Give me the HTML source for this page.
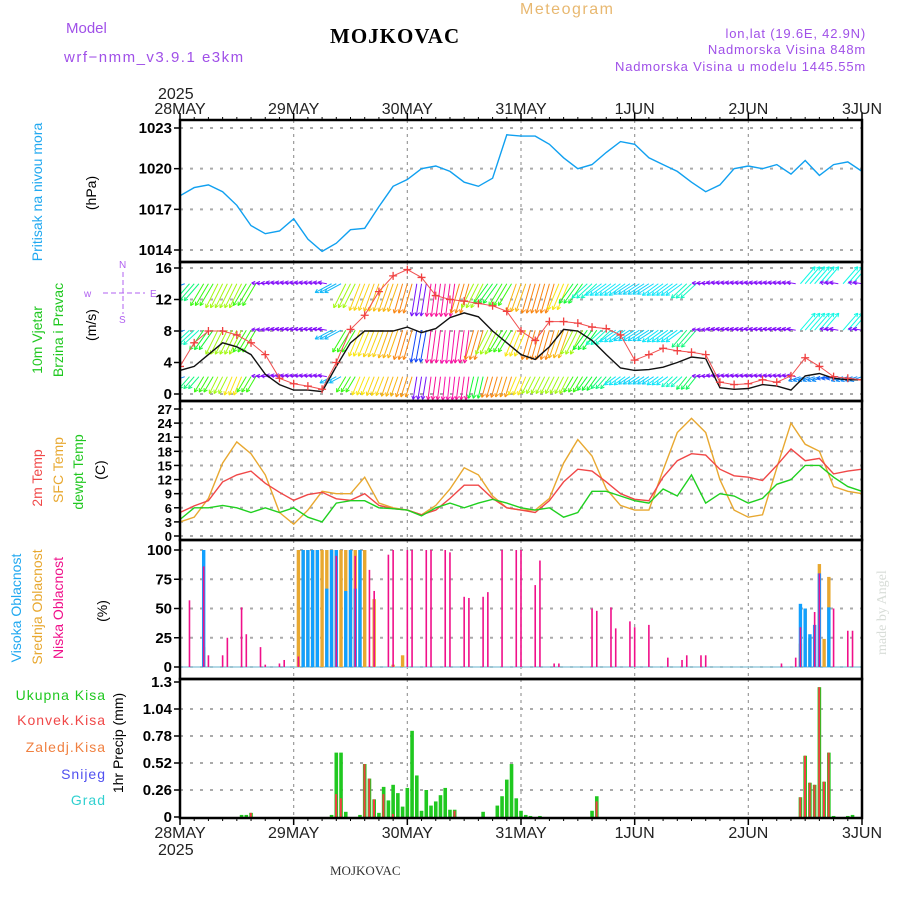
<!DOCTYPE html>
<html><head><meta charset="utf-8"><style>
html,body{margin:0;padding:0;background:#fff}
svg{display:block}
text{font-family:"Liberation Sans",sans-serif}
</style></head><body>
<svg id="c" width="900" height="900" viewBox="0 0 900 900" xmlns="http://www.w3.org/2000/svg">
<defs>
<clipPath id="cw"><rect x="180" y="262" width="682" height="139"/></clipPath>
<clipPath id="cp"><rect x="180" y="120" width="682" height="142"/></clipPath>
</defs>
<g font-size="15">
<text x="66" y="33" fill="#a050e8">Model</text>
<text x="64" y="62" fill="#a050e8" letter-spacing="1.5">wrf−nmm_v3.9.1  e3km</text>
<text x="330" y="43" style="font-family:'Liberation Serif',serif" font-weight="bold" font-size="21" fill="#000" letter-spacing="1">MOJKOVAC</text>
<text x="520" y="14" fill="#e8b870" font-size="16" letter-spacing="1.5">Meteogram</text>
<text x="866" y="38" text-anchor="end" fill="#a050e8" font-size="13" letter-spacing="0.8">lon,lat (19.6E, 42.9N)</text>
<text x="866" y="54" text-anchor="end" fill="#a050e8" font-size="13" letter-spacing="0.8">Nadmorska Visina 848m</text>
<text x="866" y="71" text-anchor="end" fill="#a050e8" font-size="13" letter-spacing="0.8">Nadmorska Visina u modelu 1445.55m</text>
<text x="158" y="99" font-size="16" fill="#222">2025</text>
<text x="158" y="855" font-size="16" fill="#222">2025</text>
<text x="330" y="875" style="font-family:'Liberation Serif',serif" font-size="13" fill="#333">MOJKOVAC</text>
<text transform="translate(886,655) rotate(-90)" style="font-family:'Liberation Serif',serif" font-size="14" fill="#d8ddd8">made by Angel</text>
</g>
<g font-size="14" text-anchor="middle">
<text transform="translate(42,192) rotate(-90)" fill="#20a8f0">Pritisak na nivou mora</text>
<text transform="translate(96,193) rotate(-90)" fill="#000">(hPa)</text>
<text transform="translate(42,340) rotate(-90)" fill="#20c820">10m Vjetar</text>
<text transform="translate(63,330) rotate(-90)" fill="#20c820">Brzina i Pravac</text>
<text transform="translate(96,325) rotate(-90)" fill="#000">(m/s)</text>
<text transform="translate(42,478) rotate(-90)" fill="#f04848">2m Temp</text>
<text transform="translate(63,470) rotate(-90)" fill="#e8a830">SFC Temp</text>
<text transform="translate(83,472) rotate(-90)" fill="#20c820">dewpt Temp</text>
<text transform="translate(105,470) rotate(-90)" fill="#000">(C)</text>
<text transform="translate(21,608) rotate(-90)" fill="#20a8f0">Visoka Oblacnost</text>
<text transform="translate(42,607) rotate(-90)" fill="#e8a830">Srednja Oblacnost</text>
<text transform="translate(63,608) rotate(-90)" fill="#f0108a">Niska Oblacnost</text>
<text transform="translate(107,611) rotate(-90)" fill="#000">(%)</text>
<text transform="translate(123,743) rotate(-90)" fill="#000">1hr Precip (mm)</text>
</g>
<g font-size="14" text-anchor="end" letter-spacing="1">
<text x="106" y="700" fill="#20c820">Ukupna  Kisa</text>
<text x="106" y="725" fill="#f04848">Konvek.Kisa</text>
<text x="106" y="752" fill="#f08040">Zaledj.Kisa</text>
<text x="106" y="779" fill="#5050f0">Snijeg</text>
<text x="106" y="805" fill="#30d0d0">Grad</text>
</g>
<g fill="#b060f0" stroke="#b060f0" font-size="10">
<text x="84" y="297" stroke="none">w</text>
<text x="150" y="297" stroke="none">E</text>
<text x="119" y="268" stroke="none">N</text>
<text x="119" y="323" stroke="none">S</text>
<line x1="103" y1="293" x2="145" y2="293" stroke-dasharray="5,3"/>
<line x1="123" y1="272" x2="123" y2="314" stroke-dasharray="5,3"/>
</g>
<g id="grid"></g>
<g id="marks"></g>
<g id="axes"></g>
</svg>
<script>
const days = ["28MAY","29MAY","30MAY","31MAY","1JUN","2JUN","3JUN"];
const pressure = [1018.0,1018.6,1018.8,1018.3,1017.3,1015.8,1015.2,1015.4,1016.3,1014.8,1013.9,1014.5,1015.5,1015.6,1017.2,1018.7,1019.2,1020.0,1020.2,1019.8,1019.0,1018.7,1019.3,1022.5,1022.4,1022.4,1021.8,1020.8,1020.0,1020.3,1021.2,1022.0,1021.8,1020.8,1020.3,1019.8,1019.0,1018.3,1018.8,1020.0,1020.2,1020.0,1020.3,1019.6,1020.6,1019.5,1020.3,1020.5,1019.8];
const windSpeed = [3.0,3.5,5.0,6.5,6.0,5.0,2.5,1.2,0.5,0.5,0.3,3.5,6.5,8.0,8.0,8.0,8.5,7.8,8.3,9.7,10.3,9.8,8.0,6.5,5.0,4.4,6.0,8.2,8.0,6.8,5.0,3.3,3.0,3.1,3.4,4.0,4.7,4.5,0.8,0.6,0.7,1.2,1.0,0.5,2.3,2.6,2.0,1.8,1.8];
const windGust = [3.5,6.5,8.0,8.0,7.5,6.5,5.0,2.0,1.3,1.0,0.6,4.0,8.2,10.0,13.0,15.0,15.8,14.8,12.5,12.0,11.8,11.5,11.2,10.5,8.0,6.8,9.2,9.2,9.0,8.5,8.3,7.5,4.3,5.0,5.8,5.5,5.3,5.0,1.5,1.2,1.3,1.8,1.5,2.3,4.6,3.5,2.2,2.0,1.8];
const dirLow = [80,60,50,45,40,50,95,100,100,100,100,75,50,40,38,35,32,18,15,12,15,25,30,32,40,45,45,45,50,55,60,70,72,72,70,65,58,95,100,100,100,100,100,100,80,80,85,80,80];
const dirMid = [80,65,55,45,45,50,95,100,100,100,100,75,50,40,38,35,30,20,15,12,15,30,45,50,40,30,30,35,45,55,65,70,72,72,70,70,60,95,100,100,100,100,100,100,240,240,100,240,100];
const dirTop = [80,60,50,45,45,50,95,100,100,100,100,75,45,38,36,35,30,18,15,15,30,45,55,50,35,30,30,40,55,65,70,70,72,72,70,70,65,95,100,100,100,100,100,100,240,240,100,240,100];
const temp2m = [5.0,6.4,7.5,11.5,13.0,13.8,11.2,9.3,7.6,8.8,9.3,7.9,7.6,9.0,6.5,5.8,5.5,4.5,5.5,8.0,10.8,10.8,8.0,6.0,5.5,5.0,7.5,11.5,14.2,13.8,11.5,9.0,7.8,7.5,12.5,16.0,17.5,17.2,14.2,12.8,12.5,11.8,15.0,18.5,16.0,16.5,13.2,13.8,14.2];
const tempSfc = [3.0,4.0,8.0,15.5,20.0,17.5,13.0,5.0,2.5,5.5,9.5,9.0,9.0,12.5,7.0,6.0,5.5,4.5,6.5,10.0,14.5,13.0,8.5,6.0,5.5,5.5,8.0,15.5,20.5,17.0,10.0,6.5,5.5,5.5,14.0,22.0,25.0,22.0,12.0,5.5,4.0,4.5,14.5,24.0,19.5,18.0,10.5,9.5,9.0];
const dewpt = [3.5,6.0,6.0,6.5,6.0,5.0,6.0,5.0,6.0,4.0,3.0,7.0,7.5,7.5,6.0,5.8,5.5,4.3,6.0,7.0,6.0,7.0,7.8,7.0,6.0,5.5,6.0,4.0,5.0,9.5,9.5,8.5,7.5,7.0,10.0,8.5,13.0,7.0,9.0,8.5,7.0,8.0,11.0,12.0,15.0,15.0,12.5,10.5,9.5];
const lowHours = [2,5,6,9,10,13,14,17,18,21,22,25,33,37,40,41,44,45,48,49,52,53,56,57,60,61,64,65,68,71,72,75,76,79,80,87,88,91,92,95,96,99,103,106,107,110,111,127,130,131,134,135,138,141,142];
const lowVals  = [57,86,10,10,25,51,28,17,2,3,6,9,95,95,83,65,96,100,100,100,100,100,100,98,60,59,60,64,100,100,100,70,91,3,3,50,48,51,33,39,34,36,8,6,10,10,10,3,8,34,47,80,50,31,31];
const midHours = [5,25,26,27,28,29,30,31,32,33,34,35,36,37,38,39,41,45,47,131,132,133,135,136,137];
const midVals  = [17,100,100,100,100,100,100,100,100,100,100,100,100,100,100,100,58,2,10,20,50,25,88,24,77];
const highHours = [5,26,27,28,29,31,32,33,35,36,37,38,131,132,133,134,135,137];
const highVals  = [100,100,100,100,100,67,100,100,65,100,67,100,54,50,28,36,80,51];
const rainHours = [13,14,15,32,33,34,35,38,39,40,41,42,43,44,45,46,47,48,49,50,51,52,53,54,55,56,57,58,64,67,68,69,70,71,72,73,74,76,87,88,131,132,133,134,135,136,137,138,141,142];
const rainVals  = [0.02,0.02,0.04,0.02,0.62,0.62,0.05,0.02,0.51,0.37,0.17,0.04,0.29,0.16,0.31,0.23,0.10,0.28,0.83,0.40,0.06,0.26,0.11,0.15,0.21,0.28,0.07,0.07,0.05,0.11,0.20,0.36,0.51,0.18,0.06,0.02,0.01,0.01,0.06,0.20,0.19,0.59,0.33,0.31,1.25,0.34,0.62,0.01,0.01,0.02];
const convHours = [15,33,34,39,40,41,43,45,58,88,131,132,133,134,135,136,137];
const convVals  = [0.04,0.22,0.18,0.51,0.37,0.17,0.22,0.03,0.06,0.15,0.19,0.59,0.33,0.31,1.25,0.34,0.62];
const pTicks = [1014,1017,1020,1023];
const wTicks = [0,4,8,12,16];
const tTicks = [0,3,6,9,12,15,18,21,24,27];
const cTicks = [0,25,50,75,100];
const rTicks = ["0","0.26","0.52","0.78","1.04","1.3"];

const NS="http://www.w3.org/2000/svg";
const X0=180,X1=862,HOURS=144;
const X = h => X0 + h*(X1-X0)/HOURS;
const lin = (v0,v1,p0,p1) => v => p0 + (v-v0)*(p1-p0)/(v1-v0);
const Yp = lin(1014,1023,250,128);
const Yw = lin(0,16,394,268);
const Yt = lin(0,27,536,409);
const Yc = lin(0,100,667,550);
const Yr = lin(0,1.3,817,682);
const panels = [
 {name:"pressure",top:120,bot:262,ticks:pTicks,y:Yp,fs:15},
 {name:"wind",top:262,bot:401,ticks:wTicks,y:Yw,fs:15},
 {name:"temperature",top:401,bot:540,ticks:tTicks,y:Yt,fs:13},
 {name:"cloud",top:540,bot:679,ticks:cTicks,y:Yc,fs:15},
 {name:"precip",top:679,bot:818,ticks:rTicks,y:Yr,fs:15}
];
function el(tag,attrs,parent){const e=document.createElementNS(NS,tag);for(const k in attrs)e.setAttribute(k,attrs[k]);parent.appendChild(e);return e;}
const grid=document.getElementById('grid'),marks=document.getElementById('marks'),axes=document.getElementById('axes');

panels.forEach(p=>{
  for(let d=1;d<days.length-1;d++){
    const l=el('line',{x1:X(d*24),x2:X(d*24),y1:p.top,y2:p.bot,stroke:'#999','stroke-width':1.2,'stroke-dasharray':'3,4'},grid);
    
    
  }
  p.ticks.forEach(t=>{
    const y=p.y(+t);
    if(y>p.top+3 && y<p.bot-3){
      const g=el('line',{x1:X0,x2:X1,y1:y,y2:y,stroke:'#aaa','stroke-width':2,'stroke-dasharray':'3,7'},grid);
      
      
    }
    const tk=el('line',{x1:X0-6,x2:X0,y1:y,y2:y,stroke:'#000','stroke-width':1.5},axes);
    
    
    const tx=el('text',{x:X0-8,y:y+5,'text-anchor':'end','font-size':p.fs,fill:'#000','font-weight':'bold'},axes);
    tx.textContent=t;
    
    
  });
  const r=el('rect',{x:X0,y:p.top,width:X1-X0,height:p.bot-p.top,fill:'none',stroke:'#000','stroke-width':2.5},axes);
  
  
});
days.forEach((d,i)=>{
  [[114,'top'],[838,'bottom']].forEach(([y,w])=>{
    const t=el('text',{x:X(i*24),y:y,'text-anchor':'middle','font-size':16,fill:'#222'},axes);
    t.textContent=d;
    
    
  });
});
for(let h=0;h<=HOURS;h+=3){
  const big=h%24===0;
  [[120,1],[818,-1]].forEach(([y,s])=>{
    const t=el('line',{x1:X(h),x2:X(h),y1:y,y2:y+s*(big?-7:-3),stroke:'#000','stroke-width':big?1.5:1},axes);
    
    
  });
}
const pts=(arr,ys)=>arr.map((v,i)=>X(i*3).toFixed(1)+','+ys(v).toFixed(1)).join(' ');

const pl=el('polyline',{points:pts(pressure,Yp),fill:'none',stroke:'#10a0f0','stroke-width':1.4,'clip-path':'url(#cp)'},marks);



const wg=el('g',{'clip-path':'url(#cw)'},marks);


const hueStops=[[0,300],[15,325],[30,30],[40,55],[50,110],[70,185],[85,220],[95,270],[180,270],[240,175]];
function hueFor(d){for(let i=1;i<hueStops.length;i++){if(d<=hueStops[i][0]){const a=hueStops[i-1],b=hueStops[i];return a[1]+(b[1]-a[1])*(d-a[0])/(b[0]-a[0]);}}return 270;}
[[dirLow,2.2,24,'low'],[dirMid,8.1,34,'mid'],[dirTop,14.0,34,'top']].forEach(([dirs,base,L0,nm])=>{
  const y0=Yw(base);
  for(let h=0;h<=HOURS;h++){
    const d=dirs[Math.round(h/3)], r=d*Math.PI/180;
    const purple = (d>=90 && d<180);
    const L = purple ? 9 : L0;
    const x=X(h);
    const x2=x-Math.sin(r)*L*(purple?1:0.5), y2=y0+Math.cos(r)*L;
    const col='hsl('+(hueFor(d)%360)+',95%,52%)';
    const a=el('line',{x1:x,y1:y0,x2:x2,y2:y2,stroke:col,'stroke-width':1},wg);
    
    
    const ang=Math.atan2(y2-y0,x2-x);
    [0.5,-0.5].forEach(o=>{
      const hd=el('line',{x1:x2,y1:y2,x2:x2-4*Math.cos(ang+o),y2:y2-4*Math.sin(ang+o),stroke:col,'stroke-width':1},wg);
      
      
    });
  }
});
const sl=el('polyline',{points:pts(windSpeed,Yw),fill:'none',stroke:'#111','stroke-width':1.4},wg);


const gl=el('polyline',{points:pts(windGust,Yw),fill:'none',stroke:'#f05050','stroke-width':1},wg);


windGust.forEach((v,i)=>{
  const x=X(i*3),y=Yw(v);
  const m=el('path',{d:`M${x-4},${y}H${x+4}M${x},${y-4}V${y+4}`,stroke:'#f04040','stroke-width':1.3},wg);
  
  
});

[[tempSfc,'#e8a830','sfc-temp-line'],[temp2m,'#f04848','temp-2m-line'],[dewpt,'#20d020','dewpoint-line']].forEach(([a,c,n])=>{
  const l=el('polyline',{points:pts(a,Yt),fill:'none',stroke:c,'stroke-width':1.4},marks);
  
  
});

const zl=el('line',{x1:X0,x2:X1,y1:Yc(0),y2:Yc(0),stroke:'#9cd','stroke-width':1.5},marks);


[[midHours,midVals,'#e8a830',3.4,'mid-cloud-bar'],[highHours,highVals,'#10a0ff',3.4,'high-cloud-bar'],[lowHours,lowVals,'#f0108a',1.6,'low-cloud-bar']].forEach(([hs,vs,c,w,n])=>{
  hs.forEach((h,i)=>{
    const x=X(h), y=Yc(vs[i]);
    const b=el('rect',{x:x-w/2,y:y,width:w,height:Yc(0)-y,fill:c},marks);
    
    
  });
});

rainHours.forEach((h,i)=>{
  const x=X(h), y=Yr(rainVals[i]);
  const b=el('rect',{x:x-1.8,y:y,width:3.6,height:Yr(0)-y,fill:'#20c820'},marks);
  
  
});
convHours.forEach((h,i)=>{
  const x=X(h), y=Yr(convVals[i]);
  const b=el('rect',{x:x-1.2,y:y,width:2,height:Yr(0)-y,fill:'#f04040'},marks);
  
  
});
</script>
</body></html>
